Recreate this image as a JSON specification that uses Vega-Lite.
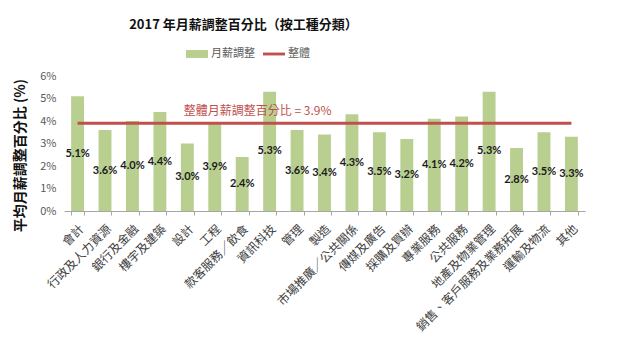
{
  "$schema": "https://vega.github.io/schema/vega-lite/v6.json",
  "autosize": {"type": "none"},
  "width": 521,
  "height": 135,
  "padding": {"left": 64, "top": 76, "right": 55, "bottom": 140},
  "background": "white",
  "title": {
    "text": "2017 年月薪調整百分比（按工種分類）",
    "anchor": "middle",
    "dx": -81,
    "offset": 11,
    "fontSize": 13,
    "fontWeight": "bold",
    "font": "Noto Sans CJK TC",
    "color": "#111111"
  },
  "config": {
    "view": {"stroke": null},
    "font": "Noto Sans CJK TC"
  },
  "data": {
    "values": [
      {"cat": "會計", "value": 5.1, "label": "5.1%", "overall": 3.9},
      {"cat": "行政及人力資源", "value": 3.6, "label": "3.6%", "overall": 3.9},
      {"cat": "銀行及金融", "value": 4.0, "label": "4.0%", "overall": 3.9},
      {"cat": "樓宇及建築", "value": 4.4, "label": "4.4%", "overall": 3.9},
      {"cat": "設計", "value": 3.0, "label": "3.0%", "overall": 3.9},
      {"cat": "工程", "value": 3.9, "label": "3.9%", "overall": 3.9},
      {"cat": "款客服務／飲食", "value": 2.4, "label": "2.4%", "overall": 3.9},
      {"cat": "資訊科技", "value": 5.3, "label": "5.3%", "overall": 3.9},
      {"cat": "管理", "value": 3.6, "label": "3.6%", "overall": 3.9},
      {"cat": "製造", "value": 3.4, "label": "3.4%", "overall": 3.9},
      {"cat": "市場推廣／公共關係", "value": 4.3, "label": "4.3%", "overall": 3.9},
      {"cat": "傳媒及廣告", "value": 3.5, "label": "3.5%", "overall": 3.9},
      {"cat": "採購及買辦", "value": 3.2, "label": "3.2%", "overall": 3.9},
      {"cat": "專業服務", "value": 4.1, "label": "4.1%", "overall": 3.9},
      {"cat": "公共服務", "value": 4.2, "label": "4.2%", "overall": 3.9},
      {"cat": "地產及物業管理", "value": 5.3, "label": "5.3%", "overall": 3.9},
      {"cat": "銷售、客戶服務及業務拓展", "value": 2.8, "label": "2.8%", "overall": 3.9},
      {"cat": "運輸及物流", "value": 3.5, "label": "3.5%", "overall": 3.9},
      {"cat": "其他", "value": 3.3, "label": "3.3%", "overall": 3.9}
    ]
  },
  "encoding": {
    "x": {
      "field": "cat",
      "type": "nominal",
      "sort": null,
      "scale": {"paddingInner": 0.53, "paddingOuter": 0.26},
      "axis": {
        "title": null,
        "labelAngle": -45,
        "labelFontSize": 12,
        "labelColor": "#404040",
        "labelFont": "Noto Sans CJK TC",
        "labelPadding": 8,
        "tickBand": "extent",
        "tickColor": "#a6a6a6",
        "tickSize": 4,
        "domainColor": "#a6a6a6",
        "labelLimit": 300
      }
    }
  },
  "layer": [
    {
      "mark": {"type": "bar"},
      "encoding": {
        "y": {
          "field": "value",
          "type": "quantitative",
          "scale": {"domain": [0, 6]},
          "axis": {
            "title": "平均月薪調整百分比 (%)",
            "titleFontSize": 14,
            "titleFontWeight": "bold",
            "titleColor": "#111111",
            "titlePadding": 12,
            "titleY": 79,
            "values": [0, 1, 2, 3, 4, 5, 6],
            "labelExpr": "datum.value + '%'",
            "labelFontSize": 11,
            "labelColor": "#595959",
            "grid": false,
            "domain": false,
            "ticks": false,
            "labelPadding": 8
          }
        },
        "color": {
          "datum": "月薪調整",
          "scale": {"domain": ["月薪調整", "整體"], "range": ["#b8cf90", "#c0504d"]},
          "legend": {
            "title": null,
            "orient": "none",
            "legendX": 122,
            "legendY": -33,
            "direction": "horizontal",
            "labelFontSize": 11,
            "labelColor": "#595959",
            "symbolSize": 484,
            "symbolStrokeWidth": 0,
            "columnPadding": 8,
            "labelOffset": 3,
            "encode": {
              "symbols": {
                "update": {
                  "shape": {"signal": "datum.value === '整體' ? 'M-1,-0.13H1V0.13H-1Z' : 'M-1,-0.36H1V0.36H-1Z'"},
                  "fill": {"signal": "datum.value === '整體' ? '#c0504d' : '#b8cf90'"},
                  "strokeWidth": {"value": 0}
                }
              }
            }
          }
        }
      }
    },
    {
      "mark": {"type": "line", "strokeWidth": 3},
      "encoding": {
        "y": {"field": "overall", "type": "quantitative", "scale": {"domain": [0, 6]}, "axis": null},
        "color": {"datum": "整體"}
      }
    },
    {
      "data": {"values": [{"cat": "款客服務／飲食", "v": 3.9, "label": "整體月薪調整百分比 = 3.9%"}]},
      "mark": {"type": "text", "color": "#c0504d", "fontSize": 12, "align": "center", "baseline": "bottom", "dy": -5, "dx": 9, "font": "Noto Sans CJK TC"},
      "encoding": {
        "x": {"field": "cat", "type": "nominal", "bandPosition": 1},
        "y": {"field": "v", "type": "quantitative", "scale": {"domain": [0, 6]}, "axis": null},
        "text": {"field": "label"}
      }
    },
    {
      "mark": {"type": "text", "fontSize": 11, "fontWeight": "bold", "color": "#1a1a1a", "baseline": "middle", "font": "Lato"},
      "encoding": {
        "y": {"field": "value", "type": "quantitative", "scale": {"domain": [0, 12]}, "axis": null},
        "text": {"field": "label"}
      }
    }
  ],
  "resolve": {"scale": {"y": "independent"}}
}
